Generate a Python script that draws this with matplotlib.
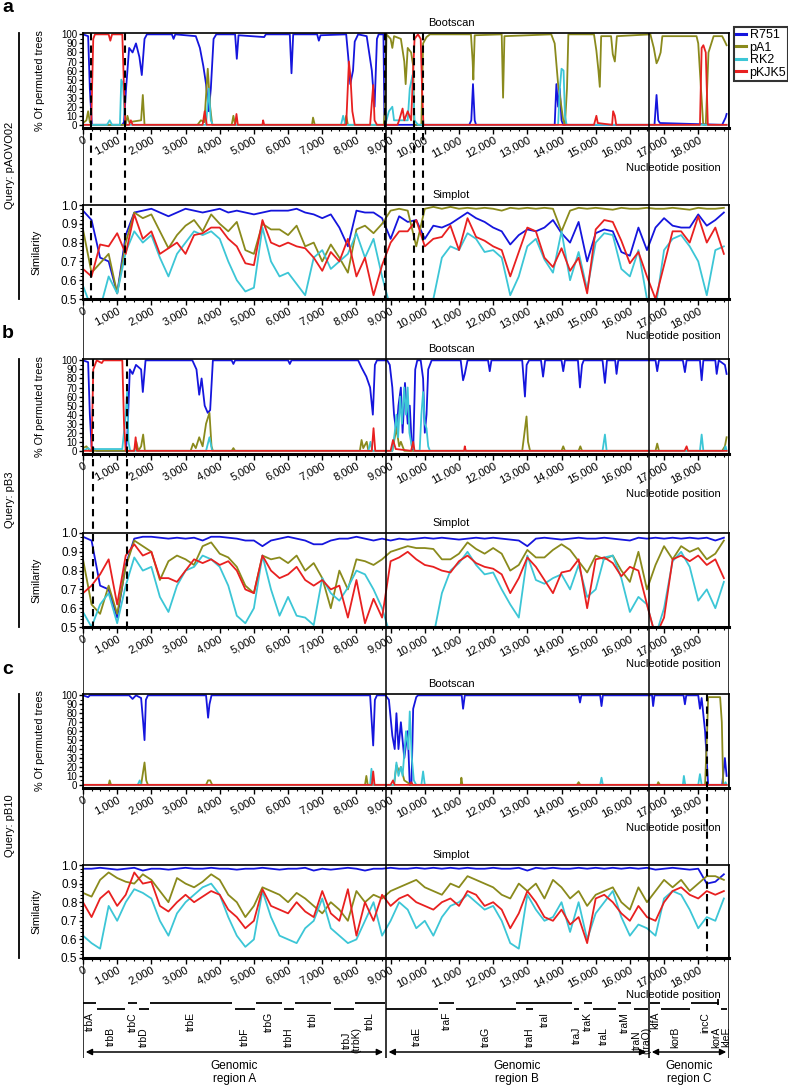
import numpy as np
import matplotlib
matplotlib.use("Agg")
import matplotlib.pyplot as plt
from matplotlib.lines import Line2D
from matplotlib.ticker import MultipleLocator, FuncFormatter

plt.rcParams['font.family'] = ['Liberation Sans', 'DejaVu Sans']
plt.rcParams['font.size'] = 8

# ---------------- data ----------------
names = ['R751', 'pA1', 'RK2', 'pKJK5']
colors = {'R751': '#1515dd', 'pA1': '#8a8a1c', 'RK2': '#3cc6d6', 'pKJK5': '#e82020'}
XMAX = 18900
region_bounds = [0, 8860, 16560, XMAX]

# simplot sampled every 250 nt
sim_pos = np.arange(0, 18751, 250)

a_sim = {
    'R751': [0.97,0.92,0.72,0.70,0.53,0.84,0.96,0.97,0.98,0.96,
             0.94,0.96,0.98,0.97,0.96,0.97,0.98,0.96,0.97,0.96,
             0.95,0.96,0.97,0.97,0.97,0.98,0.96,0.95,0.93,0.95,
             0.88,0.78,0.97,0.96,0.96,0.93,0.82,0.94,0.91,0.92,
             0.82,0.89,0.88,0.90,0.93,0.96,0.93,0.91,0.88,0.86,
             0.79,0.84,0.87,0.86,0.88,0.92,0.85,0.80,0.91,0.70,
             0.85,0.87,0.86,0.75,0.73,0.88,0.76,0.88,0.93,0.89,
             0.88,0.88,0.95,0.89,0.92,0.96],
    'pA1': [0.87,0.64,0.69,0.74,0.53,0.80,0.96,0.93,0.95,0.86,
            0.77,0.84,0.89,0.92,0.86,0.95,0.90,0.86,0.91,0.76,
            0.74,0.90,0.87,0.87,0.84,0.89,0.78,0.80,0.70,0.79,
            0.72,0.64,0.87,0.89,0.85,0.90,0.97,0.98,0.97,0.78,
            0.98,0.99,0.98,0.99,0.98,0.985,0.98,0.985,0.98,0.97,
            0.985,0.98,0.985,0.98,0.985,0.98,0.86,0.97,0.985,0.98,
            0.985,0.98,0.975,0.985,0.98,0.98,0.985,0.98,0.98,0.985,
            0.98,0.975,0.985,0.98,0.98,0.985],
    'RK2': [0.57,0.45,0.45,0.62,0.53,0.75,0.86,0.80,0.84,0.72,
            0.62,0.74,0.80,0.86,0.84,0.86,0.82,0.70,0.60,0.54,
            0.56,0.88,0.70,0.62,0.64,0.58,0.52,0.72,0.76,0.66,
            0.70,0.74,0.85,0.72,0.82,0.62,0.45,0.45,0.45,0.45,
            0.45,0.50,0.72,0.78,0.76,0.85,0.82,0.75,0.76,0.72,
            0.52,0.62,0.78,0.82,0.71,0.64,0.86,0.60,0.75,0.55,
            0.80,0.85,0.84,0.66,0.62,0.76,0.50,0.45,0.76,0.82,
            0.84,0.78,0.70,0.52,0.76,0.78],
    'pKJK5': [0.66,0.62,0.79,0.78,0.85,0.74,0.95,0.82,0.86,0.74,
              0.77,0.80,0.74,0.84,0.85,0.88,0.88,0.82,0.78,0.69,
              0.68,0.92,0.80,0.78,0.80,0.78,0.77,0.72,0.65,0.75,
              0.70,0.82,0.62,0.72,0.52,0.68,0.80,0.86,0.86,0.92,
              0.78,0.82,0.83,0.89,0.76,0.93,0.83,0.81,0.78,0.76,
              0.62,0.75,0.88,0.86,0.72,0.67,0.77,0.65,0.72,0.53,
              0.87,0.92,0.91,0.81,0.69,0.75,0.62,0.50,0.68,0.86,
              0.86,0.80,0.94,0.80,0.88,0.74],
}

b_sim = {
    'R751': [0.98,0.96,0.72,0.70,0.55,0.83,0.97,0.98,0.98,0.975,
             0.97,0.975,0.97,0.975,0.96,0.98,0.98,0.975,0.97,0.96,
             0.96,0.93,0.96,0.97,0.98,0.97,0.96,0.94,0.94,0.96,
             0.97,0.97,0.98,0.97,0.96,0.97,0.96,0.97,0.965,0.97,
             0.975,0.97,0.975,0.97,0.965,0.97,0.975,0.97,0.975,0.97,
             0.965,0.96,0.93,0.97,0.975,0.97,0.965,0.97,0.975,0.97,
             0.97,0.975,0.97,0.965,0.96,0.975,0.97,0.975,0.97,0.975,
             0.97,0.975,0.97,0.975,0.96,0.975],
    'pA1': [0.86,0.62,0.57,0.72,0.57,0.82,0.96,0.93,0.90,0.75,
            0.85,0.88,0.86,0.83,0.93,0.95,0.89,0.87,0.82,0.72,
            0.68,0.88,0.86,0.87,0.84,0.88,0.80,0.84,0.76,0.60,
            0.80,0.70,0.86,0.85,0.83,0.86,0.90,0.915,0.93,0.92,
            0.92,0.915,0.86,0.86,0.89,0.95,0.915,0.89,0.92,0.89,
            0.80,0.83,0.91,0.87,0.87,0.91,0.94,0.91,0.85,0.79,
            0.88,0.86,0.88,0.80,0.74,0.90,0.70,0.83,0.93,0.86,
            0.93,0.90,0.92,0.86,0.89,0.96],
    'RK2': [0.58,0.50,0.62,0.68,0.52,0.72,0.87,0.80,0.82,0.66,
            0.58,0.72,0.80,0.82,0.88,0.86,0.82,0.72,0.56,0.52,
            0.60,0.88,0.70,0.56,0.66,0.56,0.55,0.51,0.76,0.68,
            0.64,0.71,0.80,0.78,0.70,0.60,0.45,0.45,0.45,0.45,
            0.45,0.45,0.68,0.80,0.84,0.90,0.83,0.78,0.79,0.70,
            0.62,0.55,0.88,0.75,0.73,0.76,0.78,0.70,0.83,0.66,
            0.70,0.87,0.88,0.76,0.58,0.66,0.62,0.45,0.60,0.85,
            0.90,0.82,0.64,0.70,0.60,0.74],
    'pKJK5': [0.68,0.72,0.78,0.86,0.62,0.88,0.94,0.88,0.90,0.76,
              0.76,0.74,0.80,0.86,0.84,0.86,0.83,0.85,0.80,0.70,
              0.68,0.88,0.80,0.76,0.78,0.82,0.75,0.72,0.75,0.70,
              0.72,0.55,0.75,0.52,0.65,0.55,0.85,0.87,0.90,0.86,
              0.83,0.82,0.80,0.79,0.85,0.88,0.84,0.82,0.81,0.78,
              0.68,0.76,0.87,0.82,0.75,0.68,0.79,0.80,0.86,0.60,
              0.86,0.87,0.84,0.77,0.82,0.80,0.62,0.45,0.55,0.86,
              0.88,0.85,0.88,0.83,0.86,0.76],
}

c_sim = {
    'R751': [0.98,0.98,0.985,0.98,0.975,0.98,0.985,0.97,0.98,0.98,
             0.975,0.98,0.985,0.98,0.98,0.985,0.98,0.98,0.975,0.98,
             0.98,0.985,0.98,0.975,0.98,0.98,0.985,0.97,0.98,0.975,
             0.98,0.985,0.98,0.97,0.98,0.98,0.985,0.98,0.98,0.985,
             0.98,0.985,0.98,0.985,0.98,0.985,0.98,0.98,0.985,0.98,
             0.98,0.985,0.97,0.985,0.98,0.985,0.98,0.98,0.985,0.98,
             0.985,0.98,0.985,0.98,0.985,0.98,0.985,0.975,0.98,0.985,
             0.98,0.975,0.98,0.90,0.91,0.95],
    'pA1': [0.85,0.83,0.92,0.96,0.93,0.91,0.90,0.95,0.92,0.86,
            0.80,0.93,0.90,0.88,0.91,0.95,0.92,0.84,0.80,0.72,
            0.78,0.88,0.86,0.84,0.80,0.85,0.82,0.78,0.74,0.80,
            0.76,0.70,0.86,0.80,0.84,0.82,0.86,0.88,0.90,0.92,
            0.88,0.86,0.84,0.90,0.88,0.94,0.92,0.90,0.88,0.84,
            0.82,0.90,0.86,0.90,0.82,0.92,0.88,0.82,0.86,0.78,
            0.84,0.86,0.88,0.80,0.76,0.88,0.80,0.86,0.92,0.88,
            0.92,0.86,0.90,0.94,0.94,0.92],
    'RK2': [0.62,0.58,0.55,0.78,0.70,0.80,0.87,0.85,0.82,0.70,
            0.62,0.74,0.80,0.84,0.88,0.90,0.84,0.72,0.62,0.56,
            0.60,0.86,0.72,0.62,0.60,0.58,0.66,0.70,0.82,0.66,
            0.62,0.58,0.60,0.70,0.80,0.62,0.70,0.80,0.76,0.66,
            0.70,0.62,0.72,0.78,0.80,0.84,0.80,0.76,0.78,0.70,
            0.58,0.55,0.84,0.76,0.70,0.72,0.80,0.64,0.80,0.60,
            0.74,0.80,0.86,0.72,0.62,0.68,0.66,0.62,0.82,0.86,
            0.84,0.76,0.66,0.72,0.70,0.82],
    'pKJK5': [0.80,0.72,0.82,0.86,0.78,0.84,0.96,0.90,0.91,0.78,
              0.75,0.80,0.84,0.80,0.83,0.86,0.84,0.76,0.72,0.66,
              0.70,0.87,0.78,0.76,0.74,0.80,0.75,0.72,0.86,0.74,
              0.70,0.87,0.62,0.80,0.70,0.84,0.78,0.82,0.84,0.80,
              0.78,0.76,0.80,0.82,0.78,0.86,0.84,0.78,0.80,0.76,
              0.66,0.74,0.86,0.80,0.72,0.70,0.76,0.68,0.72,0.58,
              0.82,0.84,0.80,0.74,0.70,0.78,0.72,0.70,0.80,0.86,
              0.88,0.84,0.82,0.86,0.84,0.86],
}

# bootscan breakpoints (position, % of permuted trees)
a_boot = {
    'R751': [(0,100),(150,98),(200,40),(260,0),(1150,0),(1200,3),(1260,40),(1350,85),(1450,80),
             (1550,90),(1650,75),(1720,55),(1800,95),(1870,100),(2600,100),(2650,95),(2700,100),
             (3300,98),(3420,85),(3520,65),(3600,45),(3680,15),(3740,40),(3820,95),(3900,100),
             (4450,100),(4500,73),(4550,99),(5300,97),(5350,100),(6050,100),(6100,57),(6150,100),
             (6850,100),(6900,93),(6950,99),(7700,100),(7760,75),(7820,45),(7900,60),(7950,92),
             (8050,100),(8300,98),(8450,60),(8530,20),(8600,95),(8650,100),(8790,100),(8820,0),
             (11300,0),(11360,5),(11410,45),(11460,5),(11500,0),(13800,0),(13850,45),(13900,20),
             (13950,40),(14000,5),(14050,0),(16720,0),(16780,33),(16830,5),(16880,2),(18700,0),
             (18800,8),(18830,12)],
    'pA1': [(0,2),(100,5),(150,15),(200,3),(260,0),(1250,0),(1300,10),(1350,3),(1700,5),(1750,33),
            (1800,0),(3350,0),(3450,5),(3550,3),(3650,62),(3720,20),(3780,0),(4350,0),(4400,10),
            (4450,0),(6700,0),(6730,8),(6780,0),(7650,0),(7700,10),(7750,0),(8800,0),(8840,20),
            (8880,100),(9000,95),(9050,85),(9100,98),(9300,95),(9400,70),(9440,45),(9500,85),
            (9600,80),(9660,65),(9690,0),(9900,0),(9950,90),(10050,97),(10150,100),(11350,100),
            (11400,70),(11420,50),(11460,99),(12250,100),(12290,30),(12330,98),(13700,100),
            (13800,90),(13900,45),(13960,30),(14050,5),(14100,0),(14160,40),(14200,100),
            (14950,100),(15020,82),(15080,60),(15120,42),(15160,98),(15450,98),(15500,78),
            (15560,70),(15620,98),(16600,100),(16700,85),(16780,68),(16830,72),(16900,80),
            (16950,98),(17950,98),(18000,90),(18080,40),(18146,0),(18220,0),(18300,80),
            (18450,98),(18700,98),(18780,92),(18830,88)],
    'RK2': [(0,0),(700,0),(780,5),(850,0),(1080,0),(1120,50),(1170,45),(1220,10),(1250,0),
            (3600,0),(3680,40),(3740,5),(3800,0),(7550,0),(7610,10),(7680,0),(8850,0),(8880,5),
            (8950,15),(9050,20),(9100,5),(9500,5),(9560,40),(9640,55),(9700,5),(9800,0),
            (13900,0),(13950,40),(14000,62),(14060,60),(14100,10),(14150,0),(18830,0)],
    'pKJK5': [(0,0),(240,0),(300,95),(350,100),(750,100),(800,93),(850,100),(1150,100),(1200,40),
              (1240,0),(1350,0),(1400,5),(1450,0),(3500,0),(3560,15),(3620,0),(4450,0),(4490,12),
              (4530,0),(5250,0),(5270,5),(5300,0),(7700,0),(7780,70),(7830,50),(7880,15),(7950,0),
              (8400,0),(8490,44),(8530,5),(8600,0),(9200,0),(9250,5),(9350,18),(9400,5),(9500,15),
              (9600,5),(9660,60),(9700,95),(9800,100),(9880,95),(9920,40),(9960,0),(14950,0),
              (15020,10),(15060,2),(15480,0),(15510,15),(15560,10),(15600,0),(18050,0),
              (18100,85),(18150,88),(18220,80),(18280,0),(18830,0)],
}

b_boot = {
    'R751': [(0,100),(150,98),(200,40),(250,5),(300,3),(400,0),(1250,0),(1300,20),(1370,90),
             (1450,85),(1550,95),(1700,90),(1750,65),(1830,100),(3200,100),(3320,90),(3400,62),
             (3470,80),(3560,50),(3650,42),(3720,45),(3800,100),(4350,100),(4400,96),(4450,100),
             (6000,100),(6050,96),(6100,100),(8050,100),(8150,92),(8290,82),(8400,70),(8480,40),
             (8540,95),(8600,100),(8900,100),(8975,95),(9050,70),(9100,40),(9170,20),(9230,50),
             (9300,70),(9350,20),(9420,75),(9500,30),(9560,50),(9620,5),(9660,0),(9720,90),
             (9780,100),(9880,100),(9950,80),(10000,20),(10050,40),(10100,90),(10200,100),
             (11050,100),(11120,78),(11170,85),(11250,100),(11850,100),(11900,88),(11950,100),
             (12850,100),(12930,60),(12980,95),(13050,100),(13400,100),(13460,82),(13520,100),
             (14000,100),(14050,88),(14100,100),(14480,100),(14540,70),(14600,95),(14650,100),
             (15200,100),(15270,75),(15330,100),(15570,100),(15610,85),(15660,100),(16750,100),
             (16800,88),(16850,100),(17550,100),(17610,87),(17660,100),(18050,100),(18100,78),
             (18150,100),(18500,100),(18540,85),(18600,100),(18780,95),(18830,85)],
    'pA1': [(0,3),(100,5),(200,0),(1500,0),(1560,10),(1620,0),(1700,5),(1760,18),(1810,0),
            (3150,0),(3220,8),(3300,3),(3400,15),(3500,5),(3600,30),(3700,42),(3760,5),(3800,0),
            (4350,0),(4400,3),(4450,0),(8100,0),(8150,12),(8200,3),(8300,10),(8350,0),(9050,0),
            (9170,25),(9250,5),(9300,10),(9400,0),(12850,0),(12900,15),(12976,38),(13020,10),
            (13080,0),(14000,0),(14050,5),(14100,0),(14500,0),(14550,5),(14600,0),(16750,0),
            (16800,8),(16850,0),(18700,0),(18780,5),(18830,15)],
    'RK2': [(0,0),(150,3),(250,0),(300,2),(1150,2),(1250,40),(1290,65),(1330,10),(1380,0),
            (3600,0),(3700,15),(3780,0),(8350,0),(8410,10),(8460,0),(9050,0),(9120,20),(9170,40),
            (9220,15),(9280,60),(9330,30),(9400,70),(9450,40),(9500,70),(9550,20),(9620,5),
            (9700,0),(9850,0),(9900,40),(9950,65),(10000,30),(10050,25),(10100,5),(10150,0),
            (15200,0),(15270,18),(15320,0),(18050,0),(18100,18),(18150,0),(18750,0),(18800,5),
            (18830,0)],
    'pKJK5': [(0,0),(250,0),(300,90),(350,95),(400,100),(550,97),(600,100),(1150,100),(1200,30),
              (1250,0),(1500,0),(1540,15),(1580,0),(8450,0),(8500,25),(8550,0),(9000,0),(9070,12),
              (9150,2),(9600,0),(9660,10),(9700,0),(11150,0),(11170,5),(11200,0),(17600,0),
              (17660,5),(17700,0),(18830,0)],
}

c_boot = {
    'R751': [(0,100),(150,98),(200,100),(1350,100),(1450,96),(1550,100),(1700,97),(1760,70),
             (1800,50),(1840,95),(1900,100),(3600,100),(3660,75),(3700,90),(3760,100),(8400,100),
             (8490,44),(8540,95),(8600,100),(8850,100),(8950,95),(9050,55),(9120,40),(9170,80),
             (9230,40),(9300,70),(9400,30),(9500,60),(9560,0),(9610,0),(9660,85),(9750,98),
             (9800,100),(11080,100),(11120,85),(11170,100),(14500,100),(14540,92),(14580,100),
             (15130,100),(15170,88),(15210,100),(16650,100),(16680,88),(16720,100),(17570,100),
             (17610,90),(17650,100),(18000,100),(18050,85),(18100,97),(18200,60),(18290,0),
             (18700,0),(18780,30),(18830,10)],
    'pA1': [(0,0),(750,0),(780,5),(820,0),(1700,0),(1760,15),(1800,25),(1850,5),(1900,0),
            (3600,0),(3660,5),(3720,5),(3780,0),(8250,0),(8290,10),(8330,0),(9100,0),(9170,22),
            (9250,15),(9300,20),(9400,5),(9600,0),(11050,0),(11070,8),(11100,0),(14450,0),
            (14500,3),(14550,0),(16800,0),(16830,3),(16880,0),(18200,0),(18260,60),(18290,98),
            (18640,98),(18690,70),(18730,0),(18830,0)],
    'RK2': [(0,0),(1600,0),(1660,5),(1700,0),(8400,0),(8440,18),(8480,0),(9100,0),(9170,25),
            (9230,10),(9300,20),(9350,10),(9450,60),(9520,40),(9560,82),(9620,30),(9680,5),
            (9750,0),(9900,0),(9950,15),(10000,0),(15130,0),(15170,8),(15210,0),(17550,0),
            (17580,10),(17620,0),(18000,0),(18050,12),(18100,0),(18750,0),(18800,3),(18830,0)],
    'pKJK5': [(0,0),(8450,0),(8490,15),(8530,0),(9000,0),(9070,5),(9120,0),(9560,0),(9600,3),
              (9650,0),(18830,0)],
}

# dashed recombination breakpoints per panel
a_breaks = [225, 1240, 8830, 9690, 9950]
b_breaks = [293, 1300]
c_breaks = [18250]

# gene map
gene_names = ['trbA', 'trbB', 'trbC', 'trbD', 'trbE', 'trbF', 'trbG', 'trbH', 'trbI',
              'trbJ\n(trbK)', 'trbL', 'traE', 'traF', 'traG', 'traI', 'traH', 'traJ', 'traK',
              'traL', 'traM', 'traN\n(traO)', 'klfA', 'korB', 'incC', 'korA', 'kleE']
gene_start = [0, 410, 1320, 1640, 1970, 4440, 5050, 5870, 6190, 7340, 7950, 8858, 10420,
              10900, 12680, 12975, 14370, 14665, 14910, 15660, 16120, 16590, 16910, 17780,
              18545, 18654]
gene_end = [390, 1220, 1590, 1920, 4370, 5020, 5830, 6170, 7270, 7920, 8830, 10390, 10850,
            12660, 14320, 13170, 14520, 14880, 15590, 16020, 16540, 16880, 17760, 18620,
            18590, 18830]
gene_row = [0, 1, 0, 1, 0, 1, 0, 1, 0, 1, 0, 1, 0, 1, 0, 1, 1, 0, 1, 0, 1, 0, 1, 0, 1, 1]
# label offsets from the gene centre where the printed label is not centred
label_shift = {'trbJ\n(trbK)': 220, 'traE': 130, 'traN\n(traO)': 20, 'korA': -30, 'kleE': 90}
region_names = ['Genomic\nregion A', 'Genomic\nregion B', 'Genomic\nregion C']

# ---------------- layout ----------------
W, H = 788, 1085
L_PX, R_PX = 83, 729
fig = plt.figure(figsize=(W / 100, H / 100), dpi=100)


def rect(top, bottom):
    return [L_PX / W, 1 - bottom / H, (R_PX - L_PX) / W, (bottom - top) / H]


def fx(px):
    return px / W


def fy(py):
    return 1 - py / H


def style(ax, sim):
    ax.set_xlim(0, XMAX)
    ax.xaxis.set_major_locator(MultipleLocator(1000))
    ax.xaxis.set_minor_locator(MultipleLocator(250))
    ax.xaxis.set_major_formatter(FuncFormatter(lambda v, p: f"{int(v):,}"))
    ax.tick_params(axis='x', which='major', length=4, width=1, labelsize=8, pad=1)
    ax.tick_params(axis='x', which='minor', length=2.5, width=0.8)
    for lab in ax.get_xticklabels():
        lab.set_rotation(28)
        lab.set_ha('right')
        lab.set_va('top')
        lab.set_rotation_mode('anchor')
    if sim:
        ax.set_ylim(0.5, 1.0)
        ax.yaxis.set_major_locator(MultipleLocator(0.1))
        ax.yaxis.set_minor_locator(MultipleLocator(0.02))
        ax.yaxis.set_major_formatter(FuncFormatter(lambda v, p: f"{v:.1f}"))
        ax.set_ylabel('Similarity', fontsize=8)
        ax.yaxis.set_label_coords(-0.064, 0.5)
        ax.tick_params(axis='y', which='major', labelsize=8.5)
    else:
        ax.set_ylim(-3.5, 101.5)
        ax.yaxis.set_major_locator(MultipleLocator(10))
        ax.yaxis.set_minor_locator(MultipleLocator(5))
        ax.set_ylabel('% Of permuted trees', fontsize=7.8)
        ax.yaxis.set_label_coords(-0.059, 0.5)
        ax.tick_params(axis='y', which='major', labelsize=7)
    ax.tick_params(axis='y', which='major', length=3, width=1, pad=1)
    ax.tick_params(axis='y', which='minor', length=2, width=0.8)
    for s in ax.spines.values():
        s.set_linewidth(1.2)
    ax.spines['bottom'].set_linewidth(2.2)


panels = [('a', 'Query: pAOVO02', a_boot, a_sim, a_breaks, 33, 128, 205, 299, 165),
          ('b', 'Query: pB3', b_boot, b_sim, b_breaks, 359, 454, 533, 627, 500),
          ('c', 'Query: pB10', c_boot, c_sim, c_breaks, 694, 788, 865, 958, 826)]

overlay = fig.add_axes([L_PX / W, 0, (R_PX - L_PX) / W, 1], zorder=10)
overlay.set_xlim(0, XMAX)
overlay.set_ylim(H, 0)
overlay.axis('off')

for letter, query, boot, sim, breaks, bt, bb, st, sb, qy in panels:
    axb = fig.add_axes(rect(bt, bb))
    for n in names:
        xs, ys = zip(*boot[n])
        axb.plot(xs, ys, color=colors[n], lw=1.3)
    style(axb, False)

    axs = fig.add_axes(rect(st, sb))
    for n in names:
        axs.plot(sim_pos, sim[n], color=colors[n], lw=1.3)
    style(axs, True)

    fig.text(fx(451), fy(bt - 10), 'Bootscan', ha='center', va='center', fontsize=8)
    fig.text(fx(451), fy(st - 10), 'Simplot', ha='center', va='center', fontsize=8)
    fig.text(fx(721), fy(bb + 40), 'Nucleotide position', ha='right', va='center', fontsize=8)
    fig.text(fx(721), fy(sb + 37), 'Nucleotide position', ha='right', va='center', fontsize=8)

    fig.text(fx(2), fy(bt - 25), letter, ha='left', va='center', fontsize=14, fontweight='bold')
    fig.text(fx(10), fy(qy), query, rotation=90, ha='center', va='center', fontsize=8)
    fig.add_artist(Line2D([fx(19), fx(19)], [fy(bt), fy(sb)], color='k', lw=1.3))

    overlay.vlines(breaks, bt, sb, colors='k', linestyles=(0, (3.5, 2.5)), lw=1.5)

    if letter == 'a':
        handles = [Line2D([], [], color=colors[n], lw=2.2) for n in names]
        leg = fig.legend(handles, names, loc='upper left',
                         bbox_to_anchor=(fx(734), fy(27)), fontsize=9, frameon=True,
                         fancybox=False, edgecolor='k', handlelength=0.8, handletextpad=0.3,
                         borderpad=0.15, labelspacing=0.05, borderaxespad=0)
        leg.get_frame().set_linewidth(1.5)

# region boundary lines through the whole figure
overlay.vlines(region_bounds, 33, 1058, colors='k', lw=1.1)

# gene map
bar_y = [1003, 1009]
label_top = [1012, 1027]
for nm, s, e, r in zip(gene_names, gene_start, gene_end, gene_row):
    if nm == 'korA':
        overlay.vlines((s + e) / 2, 999, 1005, colors='k', lw=1.3)
    else:
        overlay.hlines(bar_y[r], s, e, colors='k', lw=1.3)
    overlay.text((s + e) / 2 + label_shift.get(nm, 0), label_top[r], nm, rotation=90,
                 ha='center', va='top', fontsize=7.5, linespacing=0.9)

for i, nm in enumerate(region_names):
    x0, x1 = region_bounds[i], region_bounds[i + 1]
    overlay.annotate('', xy=(x1 - 80, 1052), xytext=(x0 + 80, 1052),
                     arrowprops=dict(arrowstyle='<|-|>', color='k', lw=1.1,
                                     mutation_scale=9, shrinkA=0, shrinkB=0))
    overlay.text((x0 + x1) / 2, 1060, nm, ha='center', va='top', fontsize=8.5,
                 linespacing=1.15)

fig.savefig('out.png', dpi=100)
